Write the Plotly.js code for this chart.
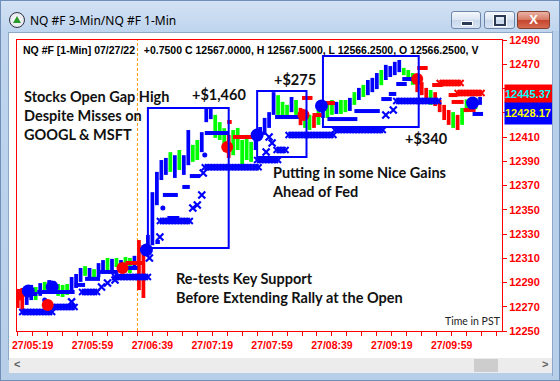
<!DOCTYPE html>
<html><head><meta charset="utf-8">
<script src="https://cdn.plot.ly/plotly-3.0.1.min.js"></script>
<style>
body{margin:0;}
#win{position:relative;width:560px;height:381px;overflow:hidden;background:linear-gradient(#d3e2f4 0px,#bfd5ee 30px,#b7cee9 100%);box-sizing:border-box;border:1px solid #6f8fb8;}
#client{position:absolute;left:7px;top:31px;width:544px;height:326px;background:#fff;border:1px solid #8ea8c8;}
#scroll{position:absolute;left:8px;top:357px;width:544px;height:15px;background:#ececec;}
#thumb{position:absolute;left:465px;top:1px;width:24px;height:13px;background:#cdcdcd;}
.arr{position:absolute;top:0px;font:bold 11px 'Liberation Sans',Arial;color:#606060;}
#plot{position:absolute;left:-1px;top:-1px;width:560px;height:381px;}
.btn{position:absolute;top:10px;height:18px;border:1px solid #6d86aa;border-radius:3px;box-sizing:border-box;background:linear-gradient(#f4f7fc,#dbe5f2 48%,#c8d7eb 52%,#d9e5f4);}
#close{background:linear-gradient(#eab3a6,#d77a64 48%,#c5452e 52%,#d66a52);border-color:#84402f;}
#title{position:absolute;left:29px;top:11px;font:12px 'Noto Sans','Open Sans',sans-serif;color:#000;}
#icon{position:absolute;left:8px;top:11px;width:16px;height:16px;border-radius:50%;background:radial-gradient(#ffffff,#d8dde4);border:1px solid #334;box-sizing:border-box;}
#rstrip{position:absolute;left:551px;top:30px;width:8px;height:345px;background:#b8cfe9;border-left:1px solid #8ea8c8;}
</style></head>
<body>
<div id="win">
  <div id="icon"><div style="position:absolute;left:3px;top:3px;width:0;height:0;border-left:4px solid transparent;border-right:4px solid transparent;border-bottom:7px solid #2a9a2a;"></div></div>
  <div id="title">NQ #F 3-Min/NQ #F 1-Min</div>
  <div class="btn" style="left:450px;width:30px;"><div style="position:absolute;left:9px;top:9px;width:10px;height:3px;background:#2b3a55;border:1px solid #fff;"></div></div>
  <div class="btn" style="left:483px;width:31px;"><div style="position:absolute;left:9px;top:3px;width:8px;height:7px;border:2px solid #2b3a55;outline:1px solid #fff;"></div></div>
  <div class="btn" id="close" style="left:516px;width:33px;"><div style="position:absolute;left:0;top:0px;width:31px;text-align:center;font:bold 13px 'Liberation Sans',Arial;color:#fff;line-height:16px;">X</div></div>
  <div id="client"></div>
  <div id="scroll"><span class="arr" style="left:5px;">&lt;</span><div id="thumb"></div><span class="arr" style="left:533px;">&gt;</span></div>
  <div id="plot"></div>
  <div id="rstrip"></div>
</div>
<script>
// ---------- DATA ----------
const day = '2022-07-27 ';
const barStart = '05:09';      // first 3-minute bar
const barStepMin = 3;
const barLow = [12269,12267.25,12271.5,12275.5,12275.5,12279,12280.5,12282.25,12282.25,12279,
 12278,12279.75,12281.25,12285.5,12290.5,12295.5,12292,12293,12294.5,12298.75,
 12300.25,12299.5,12302.75,12302,12300.25,12297.75,12300.25,12283.75,12277.25,12315.25,
 12320.75,12353.75,12374.5,12378.75,12381.25,12376.25,12382.75,12378.75,12386.75,12389.5,
 12391,12397.5,12422.25,12424.75,12409.25,12407.5,12400.75,12392.75,12395,12399.25,
 12386.75,12391,12389.5,12399.25,12409.25,12411.75,12417.5,12428.25,12428.25,12425.75,
 12425.75,12430.5,12428.25,12419.75,12417.5,12415.75,12417.5,12420,12425.75,12425.75,
 12428.25,12429,12429,12430.5,12431.5,12436.5,12440.5,12443,12444.5,12447,
 12449.5,12452.75,12457,12459.5,12461,12463.5,12461,12457,12453,12447,
 12444.5,12440.5,12436.5,12435.5,12430.5,12424,12420,12417.5,12415.75,12420,
 12430.5,12431.5,12433,12436.5];
const barHigh = [12284,12285.5,12287,12288,12286.25,12289.5,12290.5,12292,12291.25,12288.75,
 12288,12288.75,12294.5,12297,12302,12303.5,12302,12301,12306,12308.5,
 12310.25,12309.5,12310.25,12308.5,12311,12310.25,12312,12325,12320.75,12329.25,
 12364.5,12381.25,12391,12392.75,12397.5,12395,12399.25,12395,12415.75,12403.5,
 12407.5,12414,12434,12434,12428.25,12422.25,12417.25,12411.75,12415.75,12417.5,
 12407.5,12411.75,12406,12411.75,12418.25,12425.75,12430.5,12447,12444.5,12439,
 12436.5,12443,12440.5,12434,12430.5,12428.25,12427.25,12432.25,12439,12437.25,
 12440.5,12439,12440.5,12440.5,12442.25,12447,12450.5,12453,12457,12458.75,
 12462.75,12465.25,12469.5,12468.5,12472,12473.5,12467,12465.25,12462.75,12461,
 12455.25,12450.5,12448.75,12447,12440.5,12436.5,12432.25,12430.5,12428.25,12434,
 12441,12440.5,12442.25,12443];
const barTone = ['r','r','b','b','g','b','g','b','b','g','g','g','b','b','b','g','b','g','b','b',
 'g','b','g','b','g','g','b','r','r','b','b','b','b','b','g','b','g','b','b','g',
 'g','b','b','b','g','g','g','r','g','g','g','g','g','b','b','b','b','b','g','g',
 'g','b','g','r','g','g','r','g','b','g','g','b','g','g','b','g','b','g','b','b',
 'b','g','b','b','b','b','g','g','g','r','r','r','g','r','r','r','r','g','r','g',
 'g','b','g','b'];

const blueDashStart = ['05:14','05:22','05:47','05:54','06:04','06:16','06:41','06:49','06:46','06:59','07:04','07:14','08:01','08:36','08:54','09:12','09:17','09:22','09:26','10:13'];
const blueDashEnd   = ['05:22','05:47','05:54','06:04','06:16','06:29','06:44','06:57','06:56','07:04','07:11','07:30','08:18','08:56','09:11','09:19','09:22','09:29','09:34','10:20'];
const blueDashLevel = [12280.5,12282.2,12288,12293,12298.7,12302,12323.4,12343.2,12362.2,12368.8,12377.8,12413.3,12426.5,12424.8,12431.4,12441.3,12445.5,12453.7,12457.8,12429];

const blueDotTime  = ['05:27','06:46','07:14'];
const blueDotLevel = [12275.6,12351.4,12395.1];

const blueXBandStart = ['05:12','05:29','05:52','06:14','06:44','07:14','07:49','08:02','08:10','08:41','09:22'];
const blueXBandEnd   = ['05:32','05:47','06:02','06:36','07:04','07:50','08:03','08:09','08:41','09:13','09:51'];
const blueXBandLevel = [12265.7,12269.8,12282.2,12294.5,12340.7,12385,12391,12399.3,12411.6,12415.8,12439.7];

const blueXTime  = ['05:45','06:05','06:09','06:14','06:37','06:44','07:06','07:09','07:12','07:13','07:55','07:57','07:59','09:15','09:20'];
const blueXLevel = [12274,12286.3,12289.6,12292,12310.2,12327.5,12351.4,12353.9,12362.2,12380.3,12397.6,12410,12405,12428.1,12432.3];

const blueCircleTime  = ['05:16','05:32','06:35','07:49','08:32','10:13'];
const blueCircleLevel = [12283,12286.3,12316.8,12411.6,12435.6,12438];

const redCircleTime  = ['05:09','05:29','06:19','07:29','08:20','09:36'];
const redCircleLevel = [12279.7,12271.4,12302,12401.7,12428.1,12457.8];

const redDashStart = ['05:08','06:21','07:29','07:33','08:19','08:26','08:34','09:36','09:46','09:57','09:59','10:07'];
const redDashEnd   = ['05:14','06:34','07:32','07:47','08:26','08:32','08:41','09:43','09:53','10:03','10:07','10:15'];
const redDashLevel = [12283,12306.1,12422.4,12410,12442.2,12428.1,12438,12466.9,12452.9,12444.6,12438.9,12432.3];

const redXBandStart = ['05:08','09:51','10:03'];
const redXBandEnd   = ['05:12','10:06','10:20'];
const redXBandLevel = [12281,12454.5,12446.3];

const boxStart = ['06:36','07:49','08:33'];
const boxEnd   = ['07:30','08:22','09:37'];
const boxLow   = [12318.5,12393.5,12418.2];
const boxHigh  = [12434,12448,12476.8];

const openTime = '06:29';
const xTickStart = '05:19';
const yTicks = [12250,12270,12290,12310,12330,12350,12370,12390,12410,12430,12450,12470,12490];
const yTickHidden = [12430,12450];   // covered by the last-price boxes
const lastPrice = ['12445.37','12428.17'];

// ---------- helpers ----------
const pad = n => String(n).padStart(2,'0');
const toMin = s => { const [h,m] = s.split(':').map(Number); return h*60+m; };
const ts = m => { const h=Math.floor(m/60), mm=Math.floor(m%60), ss=Math.round((m-Math.floor(m))*60); return day+pad(h)+':'+pad(mm)+':'+pad(ss); };
const T = s => ts(toMin(s));
const toneColor = {r:'#ff0000', g:'#00ff00', b:'#0000ff'};

// price bars
const barX = barLow.map((_, i) => ts(toMin(barStart) + i*barStepMin));
const bars = {
  type:'bar', x: barX, base: barLow, y: barHigh.map((h,i)=>h-barLow[i]),
  width: 150000, marker:{color: barTone.map(c=>toneColor[c]), line:{width:0}},
  hoverinfo:'skip'
};

function segTrace(starts, ends, levels, color, w){
  const x=[], y=[];
  starts.forEach((s,i)=>{ x.push(T(s), T(ends[i]), null); y.push(levels[i], levels[i], null); });
  return {type:'scatter', mode:'lines', x, y, line:{color, width:w}, connectgaps:false, hoverinfo:'skip'};
}
function bandTrace(starts, ends, levels, color, size){
  const x=[], y=[];
  starts.forEach((s,i)=>{ for(let m=toMin(s); m<=toMin(ends[i])+0.01; m+=2){ x.push(ts(m)); y.push(levels[i]); } });
  return {type:'scatter', mode:'markers', x, y, marker:{symbol:'x-thin', size, line:{color, width:2}}, hoverinfo:'skip'};
}
function ptTrace(times, levels, color, size, symbol){
  const m = symbol==='x-thin' ? {symbol, size, line:{color, width:2.2}} : {symbol, size, color, line:{width:0}};
  return {type:'scatter', mode:'markers', x: times.map(T), y: levels, marker: m, hoverinfo:'skip'};
}

const data = [
  bars,
  bandTrace(blueXBandStart, blueXBandEnd, blueXBandLevel, '#0000ff', 6),
  ptTrace(blueXTime, blueXLevel, '#0000ff', 7, 'x-thin'),
  bandTrace(redXBandStart, redXBandEnd, redXBandLevel, '#ff0000', 6),
  segTrace(blueDashStart, blueDashEnd, blueDashLevel, '#0000ff', 4),
  ptTrace(blueDotTime, blueDotLevel, '#0000ff', 5, 'circle'),
  segTrace(redDashStart, redDashEnd, redDashLevel, '#ff0000', 4),
  ptTrace(redCircleTime, redCircleLevel, '#ff0000', 12, 'circle'),
  ptTrace(blueCircleTime, blueCircleLevel, '#0000ff', 13, 'circle')
];

// ---------- layout ----------
const L=17, R=502, TOP=40, BOT=331;
const px = x => (x-L)/(R-L), py = y => (BOT-y)/(BOT-TOP);
const txtFont = {family:'Lato, "Open Sans", sans-serif', size:14.5, color:'#111', weight:700};
function ann(x, y, text, font, extra){ return Object.assign({xref:'paper', yref:'paper', x:px(x), y:py(y), xanchor:'left', yanchor:'middle', text, showarrow:false, align:'left', font}, extra||{}); }
const axisFont = {family:'"Liberation Sans", Arial, sans-serif', size:10.5, color:'#ff0000', weight:700};
const priceFont = c => ({family:'"Liberation Sans", Arial', size:11, color:c, weight:700});

const shapes = boxStart.map((s,i)=>({type:'rect', xref:'x', yref:'y', x0:T(s), x1:T(boxEnd[i]), y0:boxLow[i], y1:boxHigh[i], line:{color:'#0000ff', width:2}, fillcolor:'rgba(0,0,0,0)'}));
shapes.unshift({type:'line', xref:'x', yref:'paper', x0:T(openTime), x1:T(openTime), y0:0, y1:1, line:{color:'#ff9a00', width:1, dash:'3px,2px'}, layer:'below'});

const annotations = [
  ann(21, 50, 'NQ #F [1-Min] 07/27/22\u00a0\u00a0\u00a0+0.7500 C 12567.0000, H 12567.5000, L 12566.2500, O 12566.2500, V', {family:'"Liberation Sans", Arial, sans-serif', size:10.5, color:'#000', weight:700}),
  ann(22, 116, 'Stocks Open Gap High<br>Despite Misses on<br>GOOGL &amp; MSFT', txtFont),
  ann(190, 94, '+$1,460', txtFont),
  ann(272, 79, '+$275', txtFont),
  ann(403, 138, '+$340', txtFont),
  ann(270, 181.5, 'Putting in some Nice Gains<br>Ahead of Fed', txtFont),
  ann(174, 288, 'Re-tests Key Support<br>Before Extending Rally at the Open', txtFont),
  ann(443, 321, 'Time in PST', {family:'Lato, "Open Sans", sans-serif', size:10.5, color:'#222', weight:400}),
  // last-price boxes on the price scale
  ann(504, 113, lastPrice[1], priceFont('#ffff00'), {bgcolor:'#0000ff', width:50, height:22, borderpad:0}),
  ann(504, 93.5, lastPrice[0], priceFont('#00ffff'), {bgcolor:'#ff0000', width:50, height:17, borderpad:0})
];

const layout = {
  width:560, height:381,
  margin:{l:L, r:560-R, t:TOP, b:381-BOT, pad:0},
  paper_bgcolor:'rgba(0,0,0,0)', plot_bgcolor:'#ffffff',
  showlegend:false, barmode:'overlay', hovermode:false,
  xaxis:{type:'date', range:[day+'05:08:30', day+'10:32:40'], showgrid:false, zeroline:false,
    showline:true, mirror:true, linecolor:'#ff0000', linewidth:1,
    ticks:'outside', ticklen:4, tickcolor:'#ff0000', tickwidth:1,
    tick0: T(xTickStart), dtick: 40*60000, tickformat:'%d/%H:%M', tickfont:axisFont,
    minor:{tick0: T(barStart), dtick:10*60000, ticks:'outside', ticklen:4, tickcolor:'#ff0000', tickwidth:1, showgrid:false}},
  yaxis:{side:'right', range:[yTicks[0], yTicks[yTicks.length-1]], tickmode:'array', tickvals:yTicks,
    ticktext: yTicks.map(v => yTickHidden.includes(v) ? '' : String(v)),
    showgrid:false, zeroline:false,
    showline:true, mirror:true, linecolor:'#ff0000', linewidth:1,
    ticks:'outside', ticklen:4, tickcolor:'#ff0000', tickwidth:1, tickfont:Object.assign({}, axisFont, {size:11})},
  shapes, annotations
};

Plotly.newPlot('plot', data, layout, {staticPlot:true, displayModeBar:false});
</script>
</body></html>
